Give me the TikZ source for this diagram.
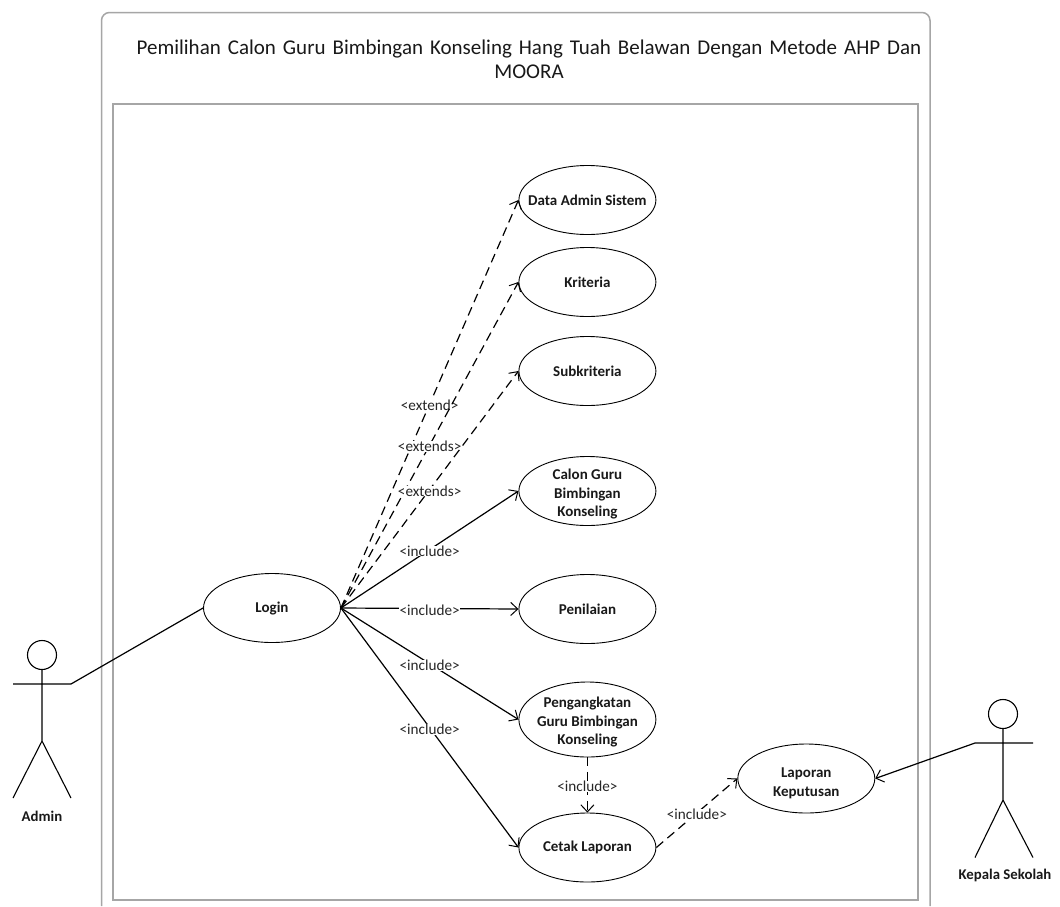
\documentclass[tikz,border=0pt]{standalone}
\usepackage{fontspec}
\setmainfont{Carlito}
\usetikzlibrary{arrows.meta,shapes.geometric}
\newcommand{\lowertext}[1]{\rule{0pt}{#1}}
\tikzset{
  frameline/.style={draw=black!35,line width=1.5pt},
  usecase/.style={ellipse,draw=black,line width=0.9pt,minimum width=137pt,minimum height=69pt,inner sep=-30pt,font=\fontsize{15}{18.5}\selectfont\bfseries,align=center,text=black!90,fill=white},
  assoc/.style={draw=black,line width=1.2pt},
  plain/.style={assoc,-{Straight Barb[length=7pt,width=13pt,line width=1pt]}},
  dep/.style={plain,dash pattern=on 9pt off 5.5pt},
  lab/.style={fill=white,inner xsep=0.5pt,inner ysep=0pt,yshift=-1.5pt,font=\fontsize{15.2}{18}\selectfont,text=black!85},
  actorname/.style={font=\fontsize{14.8}{18}\selectfont\bfseries,text=black!90},
  stick/.style={draw=black,line width=1.1pt}
}
\begin{document}
\begin{tikzpicture}[x=1pt,y=-1pt]
\useasboundingbox (0,0) rectangle (1060,906);
\fill[white] (0,0) rectangle (1060,906);
% frames
\draw[frameline,rounded corners=8pt] (101.5,906) -- (101.5,12.5) -- (930,12.5) -- (930,906);
\draw[frameline,line width=1.1pt] (113,104) rectangle (918,900);
\node[font=\fontsize{21}{24}\selectfont,align=center,text width=830pt,text=black!90] (title) at (529,59) {Pemilihan Calon Guru Bimbingan Konseling Hang Tuah Belawan Dengan Metode AHP Dan\\MOORA};
% use cases
\node[usecase] (login) at (272,608) {Login};
\node[usecase] (data) at (587.4,200) {Data Admin Sistem};
\node[usecase] (krit) at (587.4,282) {Kriteria};
\node[usecase] (sub) at (587.4,371) {Subkriteria};
\node[usecase] (calon) at (587.4,491) {\lowertext{17pt}Calon Guru\\Bimbingan\\Konseling};
\node[usecase] (nilai) at (587.4,609) {Penilaian};
\node[usecase,minimum height=75pt] (angkat) at (587.4,719.5) {\lowertext{16pt}Pengangkatan\\Guru Bimbingan\\Konseling};
\node[usecase] (cetak) at (587.4,847.5) {Cetak Laporan};
\node[usecase] (lapor) at (806.3,778.5) {\lowertext{19pt}Laporan\\Keputusan};
% actors
\node[circle,stick,minimum size=29pt,inner sep=0pt] (h1) at (42,655) {};
\coordinate (a1l) at (13,684);
\coordinate (a1r) at (71,684);
\coordinate (hip1) at (42,741);
\coordinate (l1l) at (13,798);
\coordinate (l1r) at (71,798);
\draw[stick] (h1) -- (hip1) (a1l) -- (a1r) (l1l) -- (hip1) -- (l1r);
\node[actorname] (admin) at (42,816) {Admin};
\node[circle,stick,minimum size=29pt,inner sep=0pt] (h2) at (1003,714) {};
\coordinate (a2l) at (975,743);
\coordinate (a2r) at (1033,743);
\coordinate (hip2) at (1003,800);
\coordinate (l2l) at (975,857.5);
\coordinate (l2r) at (1033,857.5);
\draw[stick] (h2) -- (hip2) (a2l) -- (a2r) (l2l) -- (hip2) -- (l2r);
\node[actorname] (kepala) at (1005,875.5) {Kepala Sekolah};
% connectors
\draw[assoc] (a1r) -- (login.west);
\draw[dep] (login.east) -- node[lab,midway] {<extend>} (data.west);
\draw[dep] (login.east) -- node[lab,midway] {<extends>} (krit.west);
\draw[dep] (login.east) -- node[lab,midway] {<extends>} (sub.west);
\draw[plain] (login.east) -- node[lab,midway] {<include>} (calon.west);
\draw[plain] (login.east) -- node[lab,midway] {<include>} (nilai.west);
\draw[plain] (login.east) -- node[lab,midway] {<include>} (angkat.west);
\draw[plain] (login.east) -- node[lab,midway] {<include>} (cetak.west);
\draw[dep] (angkat.south) -- node[lab,midway] {<include>} (cetak.north);
\draw[dep] (cetak.east) -- node[lab,midway] {<include>} (lapor.west);
\draw[plain] (a2l) -- (lapor.east);
\end{tikzpicture}
\end{document}
